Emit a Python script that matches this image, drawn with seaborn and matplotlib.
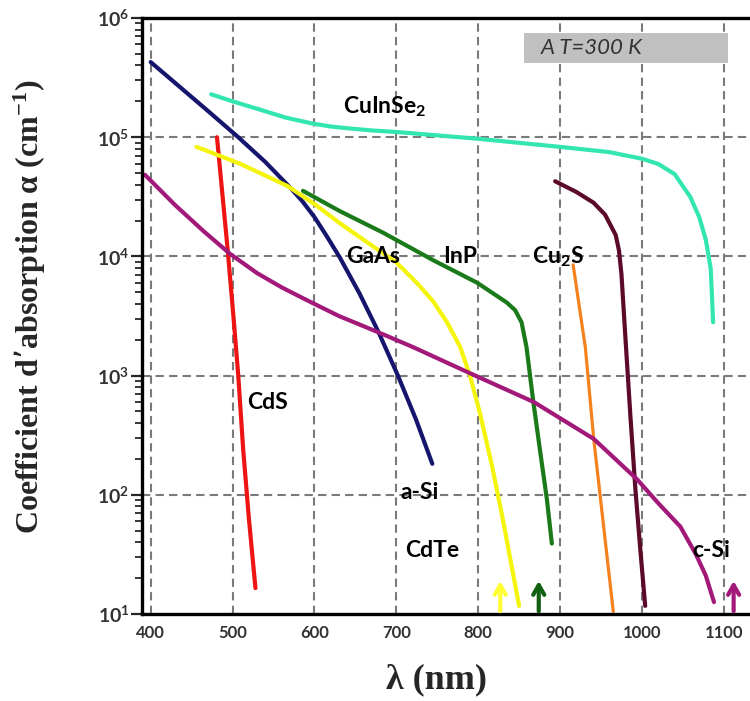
import numpy as np
import pandas as pd
import matplotlib.pyplot as plt
from matplotlib.patches import Rectangle
import seaborn as sns

sns.set_style("ticks")
plt.rcParams["font.family"] = ["Lato", "DejaVu Sans"]
plt.rcParams["mathtext.default"] = "regular"

# absorption curves: wavelength (nm) and alpha (cm^-1)
asi_wl = [400, 430, 470, 507, 540, 570, 585, 600, 615, 631, 655, 678, 702, 724, 744]
asi_a = [4.27e5, 2.85e5, 1.66e5, 1.0e5, 6.2e4, 3.8e4, 2.92e4, 2.14e4, 1.48e4, 9.8e3,
         4.9e3, 2.34e3, 1.0e3, 4.3e2, 1.82e2]

cis_wl = [474, 500, 534, 565, 598, 620, 640, 670, 705, 800, 900, 960, 1000, 1020, 1040,
          1059, 1070, 1078, 1084, 1087]
cis_a = [2.29e5, 2.0e5, 1.7e5, 1.46e5, 1.3e5, 1.23e5, 1.19e5, 1.14e5, 1.1e5, 9.7e4, 8.3e4,
         7.5e4, 6.6e4, 5.96e4, 4.9e4, 3.16e4, 2.14e4, 1.38e4, 7.9e3, 2.8e3]

cds_wl = [481, 494, 501, 507, 513, 520, 528]
cds_a = [1.0e5, 1.15e4, 3.2e3, 1.0e3, 2.4e2, 63, 16.5]

gaas_wl = [456, 509, 567, 600, 631, 664, 700, 725, 745, 762, 778, 790, 802, 817, 830, 850]
gaas_a = [8.3e4, 6.0e4, 3.9e4, 2.75e4, 1.9e4, 1.32e4, 8.9e3, 6.0e3, 4.2e3, 2.8e3, 1.74e3,
          1.0e3, 4.9e2, 1.74e2, 63, 11.7]

inp_wl = [586, 631, 684, 745, 799, 835, 845, 853, 859, 867, 876, 884, 890]
inp_a = [3.55e4, 2.4e4, 1.58e4, 9.3e3, 6.0e3, 4.1e3, 3.55e3, 2.8e3, 1.74e3, 6.3e2, 2.24e2,
         91, 39]

cu2s_wl = [916, 931, 941, 953, 965]
cu2s_a = [8.5e3, 1.7e3, 3.0e2, 56, 10.5]

other_wl = [894, 920, 941, 955, 968, 972, 975, 980, 986, 992, 998, 1004]
other_a = [4.27e4, 3.47e4, 2.82e4, 2.24e4, 1.51e4, 1.12e4, 7.1e3, 2.0e3, 4.5e2, 1.12e2, 35,
           11.7]

csi_wl = [393, 430, 465, 497, 530, 560, 590, 630, 676, 720, 787, 868, 941, 994, 1020, 1047,
          1066, 1078, 1088]
csi_a = [4.84e4, 2.69e4, 1.62e4, 1.05e4, 7.24e3, 5.5e3, 4.32e3, 3.16e3, 2.34e3, 1.74e3,
         1.07e3, 6.0e2, 2.95e2, 1.35e2, 85, 54, 31.6, 21, 12.6]

curves = [
    (asi_wl, asi_a, "#15156e", 3.0),
    (cis_wl, cis_a, "#33e6b0", 3.0),
    (cds_wl, cds_a, "#ee1414", 3.0),
    (gaas_wl, gaas_a, "#f4f40c", 3.0),
    (inp_wl, inp_a, "#1a7a1a", 3.0),
    (cu2s_wl, cu2s_a, "#f5811f", 2.3),
    (other_wl, other_a, "#5c0a2a", 3.0),
    (csi_wl, csi_a, "#a3197a", 3.0),
]

# labels (text, wavelength, alpha)
labels = [
    ("CuInSe$_2$", 686, 1.8e5),
    ("GaAs", 672, 1.0e4),
    ("InP", 778, 1.0e4),
    ("Cu$_2$S", 897, 1.0e4),
    ("CdS", 543, 6.0e2),
    ("a-Si", 729, 1.05e2),
    ("CdTe", 744, 34),
    ("c-Si", 1085, 34),
]

# band-gap arrows (wavelength, colour)
arrow_wl = [827, 874, 1112]
arrow_col = ["#ffff33", "#106010", "#a3197a"]

fig = plt.figure(figsize=(7.5, 7.01), dpi=100)
ax = fig.add_axes([0.1893, 0.1241, 0.8107, 0.8502])

for wl, a, col, lw in curves:
    sns.lineplot(x=wl, y=a, ax=ax, color=col, lw=lw, sort=False, estimator=None,
                 solid_joinstyle="round")

ax.set_yscale("log")
ax.set_xlim(389.4, 1132)
ax.set_ylim(10, 1e6)
ax.set_xticks(range(400, 1101, 100))
ax.set_yticks([1e1, 1e2, 1e3, 1e4, 1e5, 1e6])
ax.set_yticklabels([r"$10^{%d}$" % k for k in range(1, 7)])

ax.grid(True, which="major", color="#7a7a7a", lw=1.5, linestyle=(0, (4, 2.5)))
ax.set_axisbelow(True)

for s in ["left", "bottom", "top"]:
    ax.spines[s].set_linewidth(2.4)
    ax.spines[s].set_color("black")
ax.spines["right"].set_visible(False)

ax.tick_params(axis="x", length=0, pad=8, labelsize=12, labelcolor="#333333")
ax.tick_params(axis="y", which="major", length=8, width=1.6, direction="out",
               labelsize=14, labelcolor="#333333", pad=1)
ax.tick_params(axis="y", which="minor", length=5, width=1.3, direction="out")
for t in ax.get_xticklabels() + ax.get_yticklabels():
    t.set_fontweight("bold")

for txt, x, y in labels:
    ax.text(x, y, txt, ha="center", va="center", fontsize=16.5, fontweight="bold",
            color="black")

for x, c in zip(arrow_wl, arrow_col):
    ax.annotate("", xy=(x, 20), xytext=(x, 10),
                arrowprops=dict(arrowstyle="->,head_length=0.7,head_width=0.4",
                                color=c, lw=3.0), annotation_clip=False)

ax.add_patch(Rectangle((0.628, 0.9245), 0.3355, 0.0503, transform=ax.transAxes,
                       facecolor="#c0c0c0", edgecolor="none", zorder=3))
ax.text(0.655, 0.950, "A T=300 K", transform=ax.transAxes, ha="left", va="center",
        fontsize=16, fontstyle="italic", color="#333333", zorder=4)

ax.set_xlabel("λ (nm)", fontsize=26, fontweight="bold",
              family=["Liberation Serif", "DejaVu Serif"])
ax.set_ylabel("Coefficient d’absorption α (cm$^{-1}$)", fontsize=23, fontweight="bold",
              family=["Liberation Serif", "DejaVu Serif"])
ax.xaxis.set_label_coords(0.484, -0.082)
ax.yaxis.set_label_coords(-0.155, 0.515)

fig.savefig("out.png", dpi=100)
